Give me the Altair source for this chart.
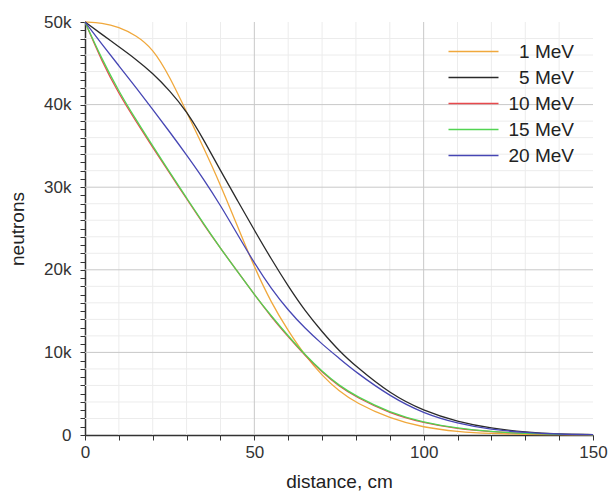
import altair as alt
import pandas as pd

distance = [0, 5, 10, 15, 20, 25, 30, 35, 40, 45, 50, 55, 60, 65, 70, 75, 80, 90, 100, 110, 120, 130, 140, 150]

mev1 = [50, 49.9, 49.4, 48.4, 46.8, 43.4, 39.1, 34.8, 30.3, 25.3, 20.3, 16.0, 12.6, 9.6, 7.2, 5.3, 3.9, 2.0, 0.9, 0.4, 0.17, 0.07, 0.03, 0.01]
mev5 = [50, 48.5, 47.0, 45.5, 43.8, 41.7, 39.2, 35.8, 32.0, 28.4, 24.8, 21.3, 18.0, 15.0, 12.5, 10.2, 8.3, 5.0, 2.9, 1.6, 0.8, 0.35, 0.12, 0.05]
mev10 = [50, 45.2, 41.3, 38.0, 34.8, 31.7, 28.6, 25.5, 22.6, 19.8, 17.0, 14.3, 11.9, 9.6, 7.6, 5.9, 4.6, 2.6, 1.45, 0.75, 0.38, 0.17, 0.07, 0.03]
mev15 = [50, 45.5, 41.6, 38.2, 35.0, 31.8, 28.7, 25.6, 22.6, 19.8, 17.0, 14.4, 12.0, 9.7, 7.7, 6.0, 4.7, 2.7, 1.5, 0.8, 0.4, 0.18, 0.07, 0.03]
mev20 = [50, 47.3, 44.7, 42.1, 39.4, 36.7, 33.9, 31.0, 27.8, 24.3, 20.8, 17.7, 15.1, 12.9, 11.0, 9.3, 7.6, 4.7, 2.6, 1.4, 0.65, 0.28, 0.1, 0.04]

series_names = ["1 MeV", "5 MeV", "10 MeV", "15 MeV", "20 MeV"]
series_values = [mev1, mev5, mev10, mev15, mev20]
series_colors = ["#f0a83c", "#2a2a2a", "#e8494c", "#52d452", "#4646b4"]

x_minor = [10, 20, 30, 40, 60, 70, 80, 90, 110, 120, 130, 140]
x_major = [50, 100]
y_minor = [v * 1000 for v in range(2, 50, 2) if v % 10 != 0]
y_major = [10000, 20000, 30000, 40000]
x_ticks = list(range(0, 151, 10))
y_ticks = list(range(0, 50001, 1000))

rows = []
for name, vals in zip(series_names, series_values):
    for d, v in zip(distance, vals):
        rows.append({"distance": d, "neutrons": v * 1000, "energy": name})
df = pd.DataFrame(rows)

xs = alt.Scale(domain=[0, 150], nice=False)
ys = alt.Scale(domain=[0, 50000], nice=False)
FONT = "Liberation Sans"

x_axis = alt.Axis(values=x_ticks, grid=False, tickSize=5, labelPadding=4,
                  labelExpr="datum.value % 50 == 0 ? datum.label : ''",
                  labelOverlap=False, labelFlush=False, titlePadding=12)
y_axis = alt.Axis(values=y_ticks, grid=False, tickSize=5, labelPadding=9,
                  labelExpr="datum.value % 10000 == 0 ? format(datum.value, '~s') : ''",
                  labelOverlap=False, labelFlush=False, titlePadding=16)
XT = "distance, cm"
YT = "neutrons"

gx_minor = alt.Chart(pd.DataFrame({"x": x_minor})).mark_rule(color="#ececec", strokeWidth=1).encode(
    x=alt.X("x:Q", scale=xs, axis=x_axis, title=XT))
gy_minor = alt.Chart(pd.DataFrame({"y": y_minor})).mark_rule(color="#ececec", strokeWidth=1).encode(
    y=alt.Y("y:Q", scale=ys, axis=y_axis, title=YT))
gx_major = alt.Chart(pd.DataFrame({"x": x_major})).mark_rule(color="#c8c8c8", strokeWidth=1).encode(
    x=alt.X("x:Q", scale=xs, axis=x_axis, title=XT))
gy_major = alt.Chart(pd.DataFrame({"y": y_major})).mark_rule(color="#c8c8c8", strokeWidth=1).encode(
    y=alt.Y("y:Q", scale=ys, axis=y_axis, title=YT))

lines = alt.Chart(df).mark_line(interpolate="basis", strokeWidth=1.3).encode(
    x=alt.X("distance:Q", scale=xs, title=XT, axis=x_axis),
    y=alt.Y("neutrons:Q", scale=ys, title=YT, axis=y_axis),
    color=alt.Color("energy:N", scale=alt.Scale(domain=series_names, range=series_colors),
                    sort=series_names,
                    legend=alt.Legend(title=None, orient="none", legendX=379, legendY=20,
                                      symbolType="M-5,0H5", symbolSize=100, symbolStrokeWidth=1.3,
                                      labelFontSize=19, labelFont=FONT, labelColor="#222",
                                      rowPadding=6, labelAlign="right", labelOffset=91)),
)

chart = alt.layer(gx_minor, gy_minor, gx_major, gy_major, lines).properties(
    width=508, height=413,
    autosize=alt.AutoSizeParams(type="none"),
    padding={"left": 77, "top": 14, "right": 15, "bottom": 60},
).configure_view(stroke=None).configure_axis(
    domainColor="#333", domainWidth=1.5, tickColor="#333", tickWidth=1,
    labelFont=FONT, labelFontSize=17, labelColor="#333",
    titleFont=FONT, titleFontSize=19, titleFontWeight="normal", titleColor="#222",
)

chart.save("out.html", embed_options={"renderer": "svg", "actions": False})
